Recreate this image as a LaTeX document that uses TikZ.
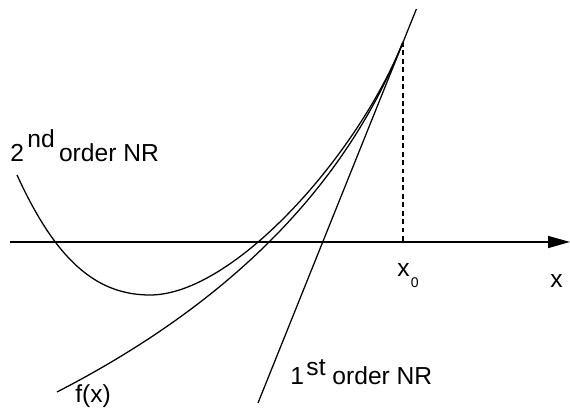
\documentclass[tikz,border=0pt]{standalone}
\usepackage{fontspec}
\setmainfont{Liberation Sans}
\usetikzlibrary{arrows.meta,calc}

\tikzset{
  curve/.style={line width=0.9pt},
  lbl/.style={font=\fontsize{17.5}{21}\selectfont, inner sep=0pt, anchor=base west},
}

\begin{document}
\begin{tikzpicture}[>={Triangle[length=5.5mm,width=3mm]}]
        \useasboundingbox (0,0) rectangle (14.25,10.25);

        % Axis
        \coordinate (xl) at (0.25,4.2);
        \coordinate (xr) at (14.25,4.2);
        \draw[->, line width=1.2pt] (xl) -- (xr);

        % Starting point and its drop line
        \coordinate (x0) at (10.075,9.2);
        \draw[dash pattern=on 3.5pt off 2.5pt, line width=0.9pt] (x0) -- (x0 |- xl);

        % 1st order NR (tangent at x0)
        \coordinate (tt) at (10.41,10.025);
        \coordinate (tb) at (6.45,0.175);
        \draw[curve] (tt) -- (tb);

        % f(x)
        \coordinate (fs) at (1.425,0.45);
        \draw[curve] (fs) .. controls (5.7625,2.685) and (8.6175,5.5725) .. (x0);

        % 2nd order NR
        \coordinate (ps) at (0.425,5.875);
        \coordinate (pm) at (3.75,2.875);
        \draw[curve] (ps) .. controls (1.385,3.775) and (2.3825,2.875) .. (pm)
                          .. controls (5.8325,2.875) and (8.9325,6.3525) .. (x0);

        % Labels
        \node[lbl] (second) at (0.25,6.2) {2\hspace{2.5pt}\raisebox{10.5pt}{nd}\hspace{3pt}order NR};
        \node[lbl] (first) at (7.25,0.625) {1\hspace{1.8pt}\raisebox{7pt}{st} order NR};
        \node[lbl] (fx) at (1.875,0.175) {f(x)};
        \node[lbl] (xzero) at (9.925,3.325) {x\hspace{1pt}\raisebox{-7.5pt}{\fontsize{10}{10}\selectfont 0}};
        \node[lbl] (xlab) at (13.75,3.05) {x};
\end{tikzpicture}
\end{document}
